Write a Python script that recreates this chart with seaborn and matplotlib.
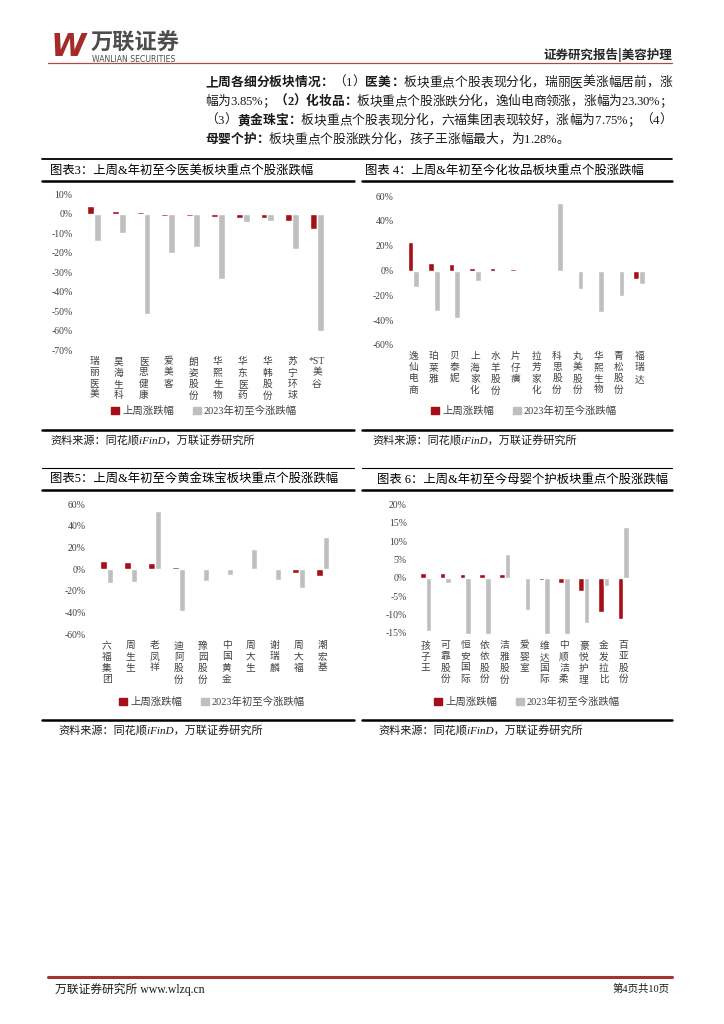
import pandas as pd
import matplotlib
matplotlib.use('Agg')
import matplotlib.pyplot as plt
from matplotlib.patches import Patch
import seaborn as sns

# ── Page / style config ───────────────────────────────────
W_PX, H_PX = 724, 1024
RED   = '#A50F15'
GRAY  = '#BFBFBF'
DARK  = '#404040'
S1 = '上周涨跌幅'
S2 = '2023年初至今涨跌幅'

# ── Data (values in %) ────────────────────────────────────
# 图表3 医美
med_names = ['瑞丽医美', '昊海生科', '医思健康', '爱美客', '朗姿股份',
             '华熙生物', '华东医药', '华韩股份', '苏宁环球', '*ST美谷']
med_week  = [3.85, 1.5, 0.8, -1.0, -1.3, -1.4, -2.0, -2.4, -3.6, -7.6]
med_ytd   = [-13.9, -10.0, -51.2, -20.0, -17.0, -33.2, -4.4, -3.9, -18.3, -60.3]

# 图表4 化妆品
cos_names = ['逸仙电商', '珀莱雅', '贝泰妮', '上海家化', '水羊股份', '片仔癀',
             '拉芳家化', '科思股份', '丸美股份', '华熙生物', '青松股份', '福瑞达']
cos_week  = [23.3, 6.0, 4.9, 2.4, 1.9, 1.1, 0.3, -0.8, -1.4, -0.8, -1.4, -6.8]
cos_ytd   = [-13.0, -33.0, -38.6, -8.6, -0.8, -1.6, 0.4, 54.6, -14.9, -33.2, -20.5, -10.8]

# 图表5 黄金珠宝
jew_names = ['六福集团', '周生生', '老凤祥', '迪阿股份', '豫园股份',
             '中国黄金', '周大生', '谢瑞麟', '周大福', '潮宏基']
jew_week  = [7.75, 6.7, 5.8, 2.1, 0.9, 0.6, 0.3, 0.0, -3.1, -5.8]
jew_ytd   = [-12.2, -11.6, 53.8, -38.9, -10.4, -5.5, 19.0, -10.1, -17.4, 29.7]

# 图表6 母婴个护
baby_names = ['孩子王', '可靠股份', '恒安国际', '依依股份', '洁雅股份', '爱婴室',
              '维达国际', '中顺洁柔', '豪悦护理', '金发拉比', '百亚股份']
baby_week  = [1.28, 1.25, 1.1, 1.1, 0.9, 0.3, -0.7, -1.3, -3.7, -9.3, -11.3]
baby_ytd   = [-14.6, -1.3, -15.3, -15.3, 6.6, -8.8, -15.3, -15.3, -12.2, -2.2, 13.75]

sns.set_theme(style='white')
plt.rcParams['font.family'] = ['Liberation Serif', 'Noto Sans CJK SC', 'DejaVu Sans']
plt.rcParams['axes.unicode_minus'] = False

fig = plt.figure(figsize=(W_PX / 100, H_PX / 100), dpi=100)


def fx(x):
    return x / W_PX


def fy(y):
    return 1 - y / H_PX


def hline(y, x0, x1, lw=1.0, color='black'):
    fig.add_artist(plt.Line2D([fx(x0), fx(x1)], [fy(y), fy(y)],
                              transform=fig.transFigure, lw=lw, color=color))


def ftext(x, y, s, **kw):
    kw.setdefault('va', 'center')
    return fig.text(fx(x), fy(y), s, **kw)


def vertical_label(name):
    # one character per line, keep the "*ST" prefix together
    if name.startswith('*ST'):
        return '\n'.join(['*ST'] + list(name[3:]))
    return '\n'.join(name)


def add_chart(rect, names, week, ytd, ylim, ticks, legend_xy):
    x0, y0, x1, y1 = rect
    ax = fig.add_axes([fx(x0), fy(y1), (x1 - x0) / W_PX, (y1 - y0) / H_PX])
    df = pd.DataFrame({
        'name': names * 2,
        'value': week + ytd,
        'series': [S1] * len(names) + [S2] * len(names),
    })
    sns.barplot(data=df, x='name', y='value', hue='series', order=names,
                hue_order=[S1, S2], palette=[RED, GRAY], saturation=1,
                width=0.56, legend=False, ax=ax)
    ax.set_ylim(*ylim)
    ax.set_xlim(-0.5, len(names) - 0.5)
    ax.set_yticks(ticks)
    ax.set_yticklabels([f'{t}%' for t in ticks])
    ax.set_xticks(range(len(names)))
    ax.set_xticklabels([vertical_label(n) for n in names], linespacing=1.3, va='top')
    ax.set_xlabel('')
    ax.set_ylabel('')
    sns.despine(ax=ax, left=True, bottom=True)
    ax.tick_params(axis='y', length=0, pad=6.5, labelsize=7, labelcolor=DARK)
    ax.tick_params(axis='x', length=0, pad=5.0, labelsize=7, labelcolor=DARK)
    ax.grid(False)
    handles = [Patch(color=RED, label=S1), Patch(color=GRAY, label=S2)]
    ax.legend(handles=handles, loc='center', ncol=2, frameon=False,
              bbox_to_anchor=(fx(legend_xy[0]), fy(legend_xy[1])),
              bbox_transform=fig.transFigure, fontsize=7.5,
              handlelength=0.75, handleheight=0.75, handletextpad=0.3,
              columnspacing=1.8, labelcolor=DARK)
    return ax


# ── Header ────────────────────────────────────────────────
ftext(51, 47, 'W', fontsize=23, fontweight='bold', style='italic',
      color='#A52A2A', family='DejaVu Sans')
ftext(91, 43, '万联证券', fontsize=16, fontweight='bold', color='#4D4D4D',
      family='Noto Sans CJK SC')
ftext(92, 59.5, 'WANLIAN SECURITIES', fontsize=5.6, color='#4D4D4D',
      family='DejaVu Sans')
ftext(672, 55, '证券研究报告|美容护理', fontsize=9, fontweight='bold',
      ha='right', family='Noto Sans CJK SC')
hline(63, 48, 672, lw=0.9, color='#B04A4A')

# ── Summary paragraph (justified) ─────────────────────────
renderer = fig.canvas.get_renderer()
PARA_SIZE = 9.2


def char_w(c, bold):
    t = fig.text(0, 0, c, fontsize=PARA_SIZE, fontweight='bold' if bold else 'normal')
    w = t.get_window_extent(renderer).width
    t.remove()
    return w


def para_line(segments, y, x0=205, x1=None):
    chars = [(c, b) for s, b in segments for c in s]
    widths = [char_w(c, b) for c, b in chars]
    gap = 0 if x1 is None else (x1 - x0 - sum(widths)) / (len(chars) - 1)
    x = x0
    for (c, b), w in zip(chars, widths):
        ftext(x, y, c, fontsize=PARA_SIZE, fontweight='bold' if b else 'normal',
              color='#1A1A1A')
        x += w + gap


para_line([('上周各细分板块情况：', True), ('（1）', False), ('医美：', True),
           ('板块重点个股表现分化，瑞丽医美涨幅居前，涨', False)], 83, x1=672)
para_line([('幅为3.85%；', False), ('（2）化妆品：', True),
           ('板块重点个股涨跌分化，逸仙电商领涨，涨幅为23.30%；', False)], 102, x1=672)
para_line([('（3）', False), ('黄金珠宝：', True),
           ('板块重点个股表现分化，六福集团表现较好，涨幅为7.75%；（4）', False)], 121, x1=672)
para_line([('母婴个护：', True),
           ('板块重点个股涨跌分化，孩子王涨幅最大，为1.28%。', False)], 140)

hline(159, 42, 672, lw=1.3)

# ── Panel titles / rules / sources ────────────────────────
TITLE_KW = dict(fontsize=8.9, color='black')
SRC = '资料来源：同花顺iFinD，万联证券研究所'
SRC_KW = dict(fontsize=8, color='#1A1A1A', style='italic')

ftext(50, 171, '图表3：上周&年初至今医美板块重点个股涨跌幅', **TITLE_KW)
ftext(365, 171, '图表 4：上周&年初至今化妆品板块重点个股涨跌幅', **TITLE_KW)
hline(181, 42, 354, lw=1.8)
hline(181, 362, 672, lw=1.8)
hline(430, 42, 354, lw=1.8)
hline(430, 362, 672, lw=1.8)
ftext(50, 441, SRC, **SRC_KW)
ftext(372, 441, SRC, **SRC_KW)

hline(468, 42, 354, lw=0.8)
hline(468, 362, 672, lw=0.8)
ftext(50, 480, '图表5：上周&年初至今黄金珠宝板块重点个股涨跌幅', **TITLE_KW)
ftext(377, 480, '图表 6：上周&年初至今母婴个护板块重点个股涨跌幅', **TITLE_KW)
hline(490, 42, 354, lw=1.8)
hline(490, 362, 672, lw=1.8)
hline(720, 42, 354, lw=1.8)
hline(720, 362, 672, lw=1.8)
ftext(58, 731, SRC, **SRC_KW)
ftext(378, 731, SRC, **SRC_KW)

# ── Charts ────────────────────────────────────────────────
add_chart((81.6, 194.3, 329.4, 350.3), med_names, med_week, med_ytd,
          (-70, 10), list(range(-70, 11, 10)), (204, 411))
add_chart((403, 196, 649.5, 345), cos_names, cos_week, cos_ytd,
          (-60, 60), list(range(-60, 61, 20)), (524, 411))
add_chart((94.7, 504.3, 334.7, 634.3), jew_names, jew_week, jew_ytd,
          (-60, 60), list(range(-60, 61, 20)), (212, 702))
add_chart((415.8, 504.3, 633.2, 634.3), baby_names, baby_week, baby_ytd,
          (-15.4, 20), list(range(-15, 21, 5)), (527, 702))

# ── Footer ────────────────────────────────────────────────
hline(977, 48, 672, lw=2.2, color='#A63232')
ftext(55, 989, '万联证券研究所 www.wlzq.cn', fontsize=8.5, color='#1A1A1A')
ftext(670, 989, '第4页共10页', fontsize=7.5, ha='right', color='#1A1A1A')

fig.savefig('out.png', dpi=100)
